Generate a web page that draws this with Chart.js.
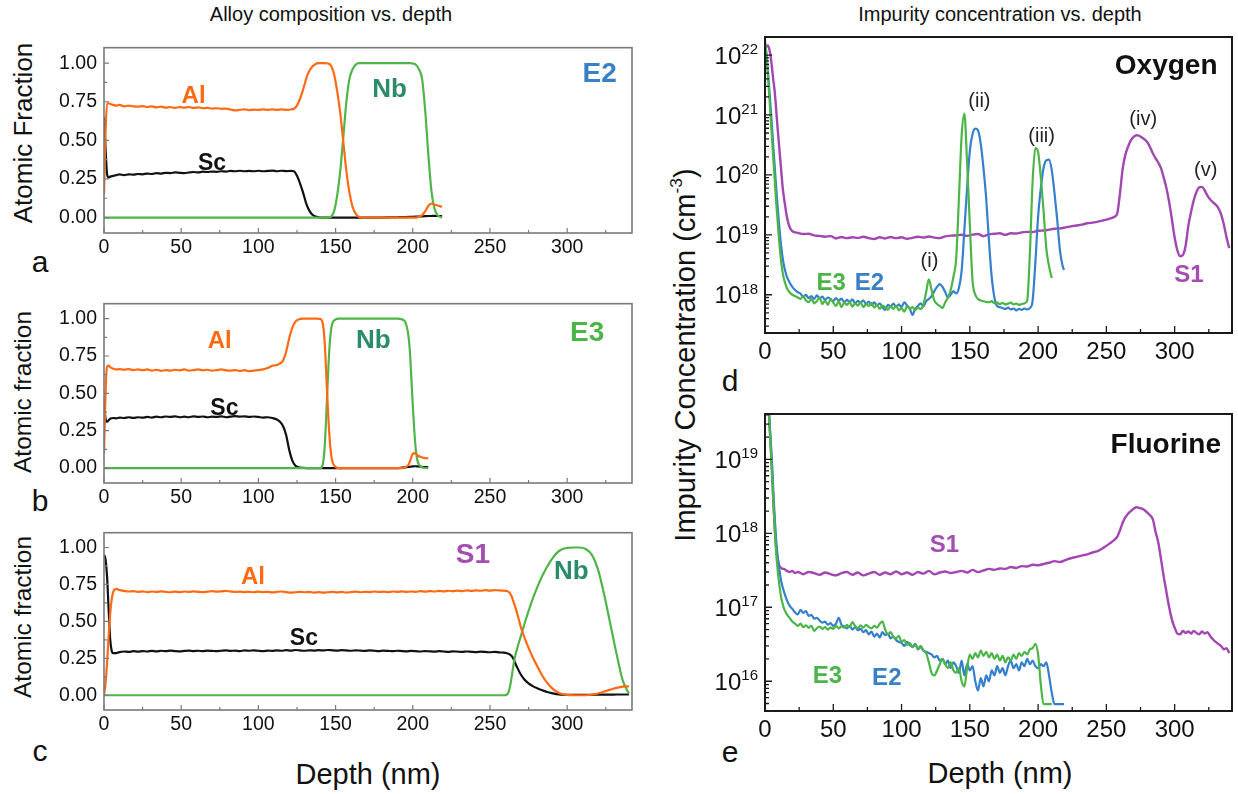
<!DOCTYPE html>
<html>
<head>
<meta charset="utf-8">
<script src="https://cdn.jsdelivr.net/npm/chart.js@4.4.1/dist/chart.umd.min.js"></script>
<style>
  body { margin: 0; background: #fff; }
  #fig { position: relative; width: 1238px; height: 794px; overflow: hidden;
         font-family: "Liberation Sans", Arial, sans-serif; color: #111; }
  #fig canvas { position: absolute; }
  .t { position: absolute; white-space: nowrap; line-height: 1; transform: translate(-50%, -50%); }
  .rot { transform: translate(-50%, -50%) rotate(-90deg); }
  .t sup { font-size: 0.6em; position: relative; top: -0.15em; vertical-align: top; }
</style>
</head>
<body>
<div id="fig">
  <div class="t" style="left:331px;top:14px;font-size:20px">Alloy composition vs. depth</div>
  <div class="t" style="left:1000px;top:14px;font-size:20px">Impurity concentration vs. depth</div>
  <div class="t rot" style="left:23px;top:133px;font-size:26px">Atomic Fraction</div>
  <div class="t rot" style="left:23px;top:392px;font-size:24.5px">Atomic fraction</div>
  <div class="t rot" style="left:23px;top:617px;font-size:24.5px">Atomic fraction</div>
  <div class="t" style="left:368px;top:774px;font-size:29px">Depth (nm)</div>
  <div class="t" style="left:1000px;top:773px;font-size:29px">Depth (nm)</div>
  <div class="t rot" style="left:685px;top:355px;font-size:29px">Impurity Concentration (cm<sup>-3</sup>)</div>
  <div class="t" style="left:40px;top:262px;font-size:30px">a</div>
  <div class="t" style="left:40px;top:501px;font-size:30px">b</div>
  <div class="t" style="left:40px;top:751px;font-size:30px">c</div>
  <div class="t" style="left:730px;top:381px;font-size:30px">d</div>
  <div class="t" style="left:730px;top:752px;font-size:30px">e</div>
</div>
<script>
// ---- alloy profiles (atomic fraction vs depth in nm) ----
// E2
const depthA = [
  0, 1, 2, 3, 4, 6, 8, 10, 13, 16,
  19, 22, 25, 28, 31, 34, 37, 40, 43, 46,
  49, 52, 55, 58, 61, 64, 67, 70, 73, 76,
  79, 82, 85, 88, 91, 94, 97, 100, 103, 106,
  109, 112, 115, 118, 121, 123, 125, 127, 129, 131,
  133, 135, 137, 139, 141, 143, 145, 147, 149, 151,
  153, 155, 157, 159, 161, 163, 165, 168, 171, 175,
  180, 185, 190, 195, 198, 200, 202, 204, 206, 208,
  210, 212, 214, 216, 218, 219]
const alA = [
  .15, .55, .74, .74, .735, .73, .725, .73, .72, .725,
  .72, .718, .722, .716, .72, .714, .718, .712, .716, .71,
  .715, .712, .716, .71, .714, .708, .71, .706, .708, .704,
  .706, .7, .694, .698, .7, .696, .699, .697, .7, .698,
  .7, .697, .7, .698, .7, .705, .725, .77, .83, .9,
  .95, .978, .995, 1, 1, 1, .998, .985, .93, .82,
  .68, .49, .3, .16, .07, .025, .005, 0, 0, 0,
  0, 0, 0, 0, 0, 0, 0, .005, .015, .04,
  .075, .09, .085, .078, .072, .07]
const scA = [
  .65, .45, .28, .26, .265, .27, .275, .28, .275, .28,
  .278, .282, .28, .285, .282, .288, .285, .29, .288, .292,
  .29, .288, .292, .295, .292, .297, .295, .298, .296, .3,
  .298, .302, .3, .303, .3, .302, .3, .303, .3, .302,
  .304, .3, .303, .301, .302, .3, .27, .22, .16, .09,
  .045, .018, .006, .002, 0, 0, 0, 0, 0, 0,
  0, 0, 0, 0, 0, 0, 0, 0, 0, 0,
  0, .001, .002, .003, .004, .005, .006, .007, .008, .009,
  .01, .01, .011, .01, .01, .01]
const nbA = [
  0, 0, 0, 0, 0, 0, 0, 0, 0, 0,
  0, 0, 0, 0, 0, 0, 0, 0, 0, 0,
  0, 0, 0, 0, 0, 0, 0, 0, 0, 0,
  0, 0, 0, 0, 0, 0, 0, 0, 0, 0,
  0, 0, 0, 0, 0, 0, 0, 0, 0, 0,
  0, 0, 0, 0, 0, 0, 0, .005, .04, .14,
  .3, .52, .75, .9, .96, .99, 1, 1, 1, 1,
  1, 1, 1, 1, 1, .998, .99, .96, .9, .7,
  .42, .18, .06, .015, .003, 0]

// E3
const depthB = [
  0, 1, 2, 3, 4, 6, 8, 10, 13, 16,
  19, 22, 25, 28, 31, 34, 37, 40, 43, 46,
  49, 52, 55, 58, 61, 64, 67, 70, 73, 76,
  79, 82, 85, 88, 91, 94, 97, 100, 103, 106,
  109, 112, 114, 116, 118, 120, 122, 124, 126, 129,
  132, 135, 138, 140, 141, 142, 143, 144, 145, 146,
  147, 148, 150, 152, 155, 160, 170, 180, 190, 193,
  195, 197, 198, 199, 200, 201, 202, 203, 205, 207,
  210]
const alB = [
  .1, .5, .68, .685, .675, .665, .66, .662, .658, .662,
  .656, .66, .655, .66, .652, .658, .65, .656, .652, .658,
  .654, .66, .652, .656, .66, .654, .658, .652, .656, .66,
  .654, .652, .656, .65, .655, .648, .652, .655, .66, .67,
  .685, .69, .7, .72, .78, .87, .94, .98, .995, 1,
  1, 1, 1, .998, .99, .95, .83, .62, .4, .22,
  .1, .04, .008, 0, 0, 0, 0, 0, 0, 0,
  .005, .02, .04, .07, .095, .1, .095, .085, .075, .068,
  .065]
const scB = [
  .45, .33, .31, .32, .33, .335, .333, .338, .335, .34,
  .336, .34, .337, .342, .338, .344, .34, .345, .342, .346,
  .34, .344, .34, .346, .342, .345, .34, .344, .342, .346,
  .34, .344, .348, .344, .346, .342, .345, .342, .338, .34,
  .335, .325, .31, .28, .22, .12, .05, .015, .005, .001,
  0, 0, 0, 0, 0, 0, 0, 0, 0, 0,
  0, 0, 0, 0, 0, 0, 0, 0, 0, .003,
  .005, .007, .008, .01, .011, .012, .012, .011, .009, .007,
  .006]
const nbB = [
  0, 0, 0, 0, 0, 0, 0, 0, 0, 0,
  0, 0, 0, 0, 0, 0, 0, 0, 0, 0,
  0, 0, 0, 0, 0, 0, 0, 0, 0, 0,
  0, 0, 0, 0, 0, 0, 0, 0, 0, 0,
  0, 0, 0, 0, 0, 0, 0, 0, 0, 0,
  0, 0, 0, 0, .005, .04, .15, .36, .6, .8,
  .92, .97, .995, 1, 1, 1, 1, 1, 1, .995,
  .98, .9, .8, .62, .42, .25, .12, .05, .01, .002,
  0]

// S1
const depthC = [
  0, 1, 2, 3, 4, 5, 6, 8, 10, 13,
  16, 19, 22, 25, 28, 31, 34, 37, 40, 43,
  46, 49, 52, 55, 58, 61, 64, 67, 70, 73,
  76, 79, 82, 85, 88, 91, 94, 97, 100, 103,
  106, 109, 112, 115, 118, 121, 124, 127, 130, 133,
  136, 139, 142, 145, 148, 151, 154, 157, 160, 163,
  166, 169, 172, 175, 178, 181, 184, 187, 190, 193,
  196, 199, 202, 205, 208, 211, 214, 217, 220, 223,
  226, 229, 232, 235, 238, 241, 244, 247, 250, 253,
  256, 259, 261, 262, 263, 264, 265, 266, 268, 270,
  272, 275, 278, 281, 284, 287, 290, 293, 296, 300,
  304, 308, 312, 316, 320, 324, 328, 332, 336, 340]
const alC = [
  0, .08, .22, .4, .55, .65, .7, .72, .712, .706,
  .702, .704, .7, .703, .698, .702, .699, .703, .7, .697,
  .701, .698, .702, .699, .703, .7, .698, .701, .704, .701,
  .703, .706, .702, .699, .701, .698, .7, .697, .701, .698,
  .7, .696, .699, .702, .698, .694, .697, .7, .697, .699,
  .695, .698, .694, .697, .7, .696, .699, .695, .698, .701,
  .697, .7, .698, .702, .699, .701, .698, .702, .7, .703,
  .699, .702, .7, .704, .701, .705, .702, .706, .703, .707,
  .704, .708, .705, .709, .706, .71, .707, .711, .708, .712,
  .709, .708, .705, .7, .69, .67, .64, .61, .54, .46,
  .4, .32, .25, .19, .13, .085, .05, .025, .01, .002,
  0, 0, 0, .003, .012, .025, .038, .05, .058, .06]
const scC = [
  .95, .92, .8, .58, .38, .3, .285, .285, .292, .296,
  .293, .298, .295, .299, .296, .3, .297, .301, .298, .302,
  .299, .297, .3, .302, .299, .301, .298, .302, .3, .298,
  .301, .303, .3, .302, .299, .303, .301, .304, .301, .299,
  .302, .3, .303, .301, .305, .302, .306, .303, .301, .304,
  .302, .305, .303, .306, .304, .302, .305, .303, .301, .304,
  .302, .3, .303, .301, .299, .302, .3, .298, .301, .299,
  .297, .3, .298, .296, .299, .297, .295, .298, .296, .294,
  .297, .295, .293, .296, .294, .292, .295, .293, .291, .294,
  .29, .288, .284, .28, .275, .265, .25, .225, .18, .14,
  .11, .08, .06, .045, .033, .022, .014, .008, .004, .002,
  .002, .002, .003, .003, .004, .004, .004, .005, .005, .005]
const nbC = [
  0, 0, 0, 0, 0, 0, 0, 0, 0, 0,
  0, 0, 0, 0, 0, 0, 0, 0, 0, 0,
  0, 0, 0, 0, 0, 0, 0, 0, 0, 0,
  0, 0, 0, 0, 0, 0, 0, 0, 0, 0,
  0, 0, 0, 0, 0, 0, 0, 0, 0, 0,
  0, 0, 0, 0, 0, 0, 0, 0, 0, 0,
  0, 0, 0, 0, 0, 0, 0, 0, 0, 0,
  0, 0, 0, 0, 0, 0, 0, 0, 0, 0,
  0, 0, 0, 0, 0, 0, 0, 0, 0, 0,
  0, 0, .005, .02, .06, .12, .19, .25, .33, .4,
  .47, .57, .66, .74, .81, .87, .92, .96, .985, .997,
  1, 1, .99, .95, .85, .68, .48, .28, .1, .01]

// ---- SIMS impurity profiles (cm^-3 vs depth in nm) ----
const depthS1 = [
  0, 1, 2, 3, 4, 5, 6, 7, 8, 9,
  10, 11, 12, 13, 14, 15, 16, 18, 20, 22,
  24, 28, 32, 36, 40, 44, 48, 52, 56, 60,
  64, 68, 72, 76, 80, 84, 88, 92, 96, 100,
  104, 108, 112, 116, 120, 124, 128, 132, 136, 140,
  144, 148, 152, 156, 160, 164, 168, 172, 176, 180,
  184, 188, 192, 196, 200, 204, 208, 212, 216, 220,
  224, 228, 232, 236, 240, 244, 248, 252, 256, 258,
  260, 262, 264, 266, 268, 270, 272, 274, 276, 278,
  280, 282, 284, 286, 288, 290, 292, 294, 296, 298,
  300, 302, 304, 306, 308, 310, 312, 314, 316, 318,
  320, 322, 324, 326, 328, 330, 332, 334, 336, 338,
  340]
const oxyS1 = [
  1.1e22, 1.4e22, 1.45e22, 1.3e22, 1e22, 6.5e21, 4e21, 2.6e21, 1.4e21, 7e20,
  3.8e20, 2e20, 1.1e20, 6e19, 4e19, 2.8e19, 2e19, 1.35e19, 1.15e19, 1.1e19,
  1.08e19, 1.03e19, 1.04e19, 9.8e18, 9.6e18, 9.3e18, 9.5e18, 8.7e18, 9.2e18, 8.8e18,
  9.1e18, 8.9e18, 9.3e18, 8.8e18, 8.5e18, 9.1e18, 8.7e18, 9.2e18, 8.8e18, 9.1e18,
  8.6e18, 8.9e18, 9.3e18, 9e18, 9.4e18, 9e18, 8.8e18, 9.4e18, 9.7e18, 9.8e18,
  1e19, 9.6e18, 1.01e19, 1.03e19, 9.5e18, 1.02e19, 1.04e19, 1.06e19, 1e19, 1.06e19,
  1.05e19, 1.1e19, 1.12e19, 1.11e19, 1.17e19, 1.18e19, 1.22e19, 1.26e19, 1.28e19, 1.33e19,
  1.38e19, 1.43e19, 1.48e19, 1.56e19, 1.6e19, 1.66e19, 1.75e19, 1.85e19, 2e19, 2.3e19,
  5e19, 1.3e20, 2.2e20, 3e20, 3.8e20, 4.3e20, 4.6e20, 4.5e20, 4.2e20, 3.9e20,
  3.5e20, 2.9e20, 2.3e20, 1.9e20, 1.6e20, 1.3e20, 9e19, 6e19, 3.5e19, 1.8e19,
  9e18, 5.5e18, 4.4e18, 4.6e18, 6.5e18, 1.4e19, 2.4e19, 3.8e19, 5.2e19, 6.2e19,
  6.3e19, 5.5e19, 4.5e19, 3.9e19, 3.5e19, 3.2e19, 2.8e19, 2.2e19, 1.5e19, 9e18,
  6e18]
const fluS1 = [
  3e20, 1.5e20, 8e19, 4e19, 1.8e19, 8e18, 3e18, 1.3e18, 7e17, 4.8e17,
  3.9e17, 3.5e17, 3.4e17, 3.3e17, 3.3e17, 3.2e17, 3.1e17, 3e17, 3.1e17, 2.9e17,
  3e17, 2.8e17, 3e17, 2.9e17, 2.75e17, 2.95e17, 2.8e17, 2.7e17, 2.9e17, 3e17,
  2.75e17, 2.95e17, 2.7e17, 2.85e17, 3e17, 2.75e17, 2.95e17, 2.8e17, 3.05e17, 2.8e17,
  2.95e17, 2.75e17, 3e17, 2.85e17, 3.1e17, 2.8e17, 2.95e17, 3.05e17, 2.9e17, 3e17,
  3.1e17, 2.95e17, 3.2e17, 3e17, 3.15e17, 3.3e17, 3.2e17, 3.35e17, 3.3e17, 3.5e17,
  3.4e17, 3.6e17, 3.55e17, 3.75e17, 3.7e17, 3.85e17, 4e17, 4.2e17, 4.1e17, 4.35e17,
  4.6e17, 4.8e17, 5e17, 5.2e17, 5.5e17, 5.8e17, 6.4e17, 7.2e17, 8.2e17, 9e17,
  1.1e18, 1.4e18, 1.65e18, 1.85e18, 2e18, 2.15e18, 2.25e18, 2.2e18, 2.15e18, 2.05e18,
  1.9e18, 1.75e18, 1.55e18, 1.05e18, 7.5e17, 4.5e17, 2.6e17, 1.6e17, 1e17, 6.8e16,
  5.3e16, 4.4e16, 4.3e16, 4.8e16, 4.5e16, 4.7e16, 4.4e16, 4.8e16, 4.5e16, 4.3e16,
  4.7e16, 4.4e16, 4.6e16, 4.1e16, 3.7e16, 3.4e16, 3.2e16, 3e16, 2.7e16, 2.8e16,
  2.4e16]

const depthE2 = [
  0, 1, 2, 3, 4, 5, 6, 7, 8, 9,
  10, 11, 12, 13, 14, 15, 16, 18, 20, 22,
  24, 26, 28, 30, 32, 34, 36, 38, 40, 42,
  44, 46, 48, 50, 52, 54, 56, 58, 60, 62,
  64, 66, 68, 70, 72, 74, 76, 78, 80, 82,
  84, 86, 88, 90, 92, 94, 96, 98, 100, 102,
  104, 106, 108, 110, 112, 114, 116, 118, 120, 122,
  124, 126, 128, 130, 132, 134, 136, 138, 140, 142,
  144, 146, 148, 150, 152, 154, 156, 158, 160, 162,
  164, 166, 168, 170, 172, 174, 176, 178, 180, 182,
  184, 186, 188, 190, 192, 194, 196, 198, 200, 202,
  204, 206, 208, 210, 212, 214, 216, 218, 219]
const oxyE2 = [
  1.6e22, 1.1e22, 6e21, 3e21, 1.5e21, 7e20, 3.2e20, 1.5e20, 7e19, 3.5e19,
  1.8e19, 1e19, 6e18, 4e18, 3e18, 2.4e18, 2e18, 1.6e18, 1.35e18, 1.2e18,
  1.1e18, 1.05e18, 9.2e17, 1e18, 8.8e17, 9.5e17, 8.5e17, 9.8e17, 8.7e17, 9.3e17,
  8.2e17, 9e17, 8.5e17, 7.8e17, 8.8e17, 8e17, 8.6e17, 7.5e17, 8.2e17, 7.6e17,
  8.4e17, 7.2e17, 7.9e17, 7.4e17, 8.1e17, 7e17, 7.7e17, 6.8e17, 7.5e17, 6.6e17,
  7.2e17, 6.2e17, 5.6e17, 6.8e17, 6.4e17, 7.1e17, 6.3e17, 6.9e17, 6.2e17, 7.5e17,
  6.6e17, 5.9e17, 4.6e17, 5.8e17, 6.5e17, 7.2e17, 6.4e17, 7.8e17, 8.5e17, 9.5e17,
  1.15e18, 1.35e18, 1.5e18, 1.35e18, 1.1e18, 9e17, 1e18, 1.15e18, 1.05e18, 1.3e18,
  2.5e18, 1.2e19, 6e19, 2.5e20, 4.8e20, 5.9e20, 5.5e20, 3.3e20, 1.3e20, 4e19,
  8e18, 2e18, 9e17, 6.5e17, 6.2e17, 6e17, 5.8e17, 6.1e17, 5.7e17, 5.9e17,
  5.5e17, 5.8e17, 5.6e17, 5.9e17, 5.7e17, 6e17, 8e17, 3.5e18, 2e19, 6e19,
  1.3e20, 1.75e20, 1.8e20, 1.2e20, 5e19, 1.8e19, 5.5e18, 3e18, 2.6e18]
const fluE2 = [
  3e20, 1.5e20, 8e19, 4e19, 2e19, 1e19, 4e18, 1.8e18, 9e17, 5.5e17,
  3.8e17, 2.8e17, 2.2e17, 1.85e17, 1.6e17, 1.4e17, 1.25e17, 1.05e17, 9.5e16, 8.5e16,
  8e16, 9.2e16, 8.4e16, 8.9e16, 7.6e16, 7.9e16, 7e16, 7.2e16, 6.6e16, 6.2e16,
  6.4e16, 5.8e16, 6.1e16, 5.6e16, 6e16, 7.2e16, 5.8e16, 5.5e16, 5.2e16, 5.6e16,
  5e16, 5.4e16, 4.9e16, 5.1e16, 4.6e16, 4.9e16, 4.3e16, 4.7e16, 4e16, 4.4e16,
  3.9e16, 4.6e16, 4.2e16, 4.4e16, 3.8e16, 4e16, 3.6e16, 3.4e16, 3.3e16, 3e16,
  3.4e16, 3.1e16, 2.9e16, 3.2e16, 2.7e16, 2.9e16, 2.6e16, 2.5e16, 2.4e16, 2.3e16,
  2.1e16, 2.2e16, 1.9e16, 2e16, 1.7e16, 1.9e16, 1.5e16, 1.8e16, 1.6e16, 1.3e16,
  1.9e16, 1.2e16, 1.7e16, 1.4e16, 1.6e16, 1e16, 7.5e15, 1.1e16, 8.5e15, 1.2e16,
  1e16, 1.4e16, 1.2e16, 1.6e16, 1.3e16, 1.5e16, 1.2e16, 1.6e16, 1.9e16, 1.5e16,
  1.7e16, 1.4e16, 1.8e16, 1.6e16, 2e16, 1.7e16, 1.9e16, 1.6e16, 1.5e16, 1.7e16,
  1.6e16, 1.8e16, 1.2e16, 7e15, 4.9e15, 4.9e15, 4.9e15, 4.9e15, 4.9e15]

const depthE3 = [
  0, 1, 2, 3, 4, 5, 6, 7, 8, 9,
  10, 11, 12, 13, 14, 15, 16, 18, 20, 22,
  24, 26, 28, 30, 32, 34, 36, 38, 40, 42,
  44, 46, 48, 50, 52, 54, 56, 58, 60, 62,
  64, 66, 68, 70, 72, 74, 76, 78, 80, 82,
  84, 86, 88, 90, 92, 94, 96, 98, 100, 102,
  104, 106, 108, 110, 112, 114, 116, 118, 120, 122,
  124, 126, 128, 130, 132, 134, 136, 138, 140, 142,
  144, 146, 148, 150, 152, 154, 156, 158, 160, 162,
  164, 166, 168, 170, 172, 174, 176, 178, 180, 182,
  184, 186, 188, 190, 192, 194, 196, 198, 200, 202,
  204, 206, 208, 210]
const oxyE3 = [
  1.8e22, 1e22, 5e21, 2.3e21, 1e21, 4.5e20, 2e20, 9e19, 4e19, 2e19,
  1e19, 5.5e18, 3.3e18, 2.3e18, 1.8e18, 1.5e18, 1.3e18, 1.1e18, 1e18, 9.5e17,
  9e17, 8.5e17, 9.5e17, 8e17, 7.5e17, 8.6e17, 7.2e17, 7.8e17, 9e17, 7e17,
  8e17, 6.8e17, 8.4e17, 7.4e17, 6.5e17, 7.8e17, 6.2e17, 7.4e17, 6.8e17, 7.6e17,
  6.3e17, 7.2e17, 6.6e17, 7.5e17, 6.2e17, 7e17, 6.5e17, 7.3e17, 6.1e17, 6.8e17,
  5.8e17, 6.6e17, 6.2e17, 5.6e17, 6.4e17, 5.8e17, 6.6e17, 5.5e17, 6e17, 5.2e17,
  6.4e17, 5.8e17, 6.2e17, 5.6e17, 6.1e17, 5.8e17, 6.8e17, 1.1e18, 1.8e18, 1.2e18,
  8e17, 7e17, 6.5e17, 6e17, 7.5e17, 9e17, 1.2e18, 2e18, 4e18, 4e19,
  4.5e20, 1.05e21, 1.6e20, 1.5e19, 1.7e18, 1e18, 8.5e17, 8e17, 7.8e17, 7.6e17,
  7.5e17, 7.8e17, 7.2e17, 7.4e17, 7e17, 7.3e17, 6.9e17, 7.1e17, 7.4e17, 6.9e17,
  7.1e17, 6.8e17, 7e17, 7.2e17, 8e17, 5e18, 8e19, 2.8e20, 2.4e20, 9e19,
  2.5e19, 6e18, 3e18, 1.9e18]
const fluE3 = [
  3e20, 1.4e20, 7e19, 3.5e19, 1.6e19, 7e18, 3e18, 1.3e18, 6e17, 3.6e17,
  2.4e17, 1.7e17, 1.3e17, 1.1e17, 9.5e16, 8.7e16, 8e16, 7.2e16, 6.4e16, 6e16,
  5.6e16, 6e16, 5.4e16, 5.7e16, 5.3e16, 5.6e16, 4.8e16, 5.2e16, 5.5e16, 5.1e16,
  5.4e16, 5e16, 5.3e16, 5.1e16, 5.6e16, 5.2e16, 5.5e16, 5.3e16, 5.8e16, 5.4e16,
  6.3e16, 5.6e16, 5.2e16, 5.7e16, 5.3e16, 5.8e16, 5.4e16, 5.2e16, 5.6e16, 5.3e16,
  6e16, 6.4e16, 5e16, 4.3e16, 4.6e16, 4e16, 3.8e16, 4.1e16, 3.4e16, 3.6e16,
  3.1e16, 3.3e16, 2.9e16, 3.1e16, 2.8e16, 3e16, 2.6e16, 2.4e16, 1.8e16, 1.3e16,
  1.2e16, 1.4e16, 1.7e16, 2e16, 1.7e16, 1.5e16, 1.8e16, 1.4e16, 1.3e16, 1.5e16,
  1e16, 8.5e15, 1.5e16, 2.3e16, 2e16, 2.4e16, 2.1e16, 2.6e16, 2.2e16, 2.5e16,
  2.1e16, 2.4e16, 2e16, 2.3e16, 1.9e16, 2.2e16, 1.8e16, 2.1e16, 1.9e16, 2.3e16,
  2e16, 2.4e16, 2.2e16, 2.5e16, 2.3e16, 2.7e16, 2.8e16, 3.2e16, 2.3e16, 9e15,
  4.9e15, 4.9e15, 4.9e15, 4.9e15]

// ---- axes ----
const depthTicks = [0, 50, 100, 150, 200, 250, 300]
const depthMinor = [25, 75, 125, 175, 225, 275, 325]
const fracTicks = [0, 0.25, 0.5, 0.75, 1]
const fracMinor = [0.125, 0.375, 0.625, 0.875]
const oxyDecades = [18, 19, 20, 21, 22]
const fluDecades = [16, 17, 18, 19]

const FONT = '"Liberation Sans", Arial, sans-serif'
const C = {
    al: '#ff6a13', sc: '#111111', nb: '#4fb548',
    s1: '#a246b2', e2: '#3580cc', e3: '#4cb548',
    nbText: '#2b8c6c', e2Text: '#3a80c6', e3Text: '#4cb548', s1Text: '#a44db2'
}
// margins round each plot box: y-axis width, top pad, right pad, x-axis height
const M = { l: 64, t: 10, r: 8, b: 36 }
const fig = document.getElementById('fig')

function mount(box) {
    const c = document.createElement('canvas')
    const w = box[2] - box[0] + M.l + M.r
    const h = box[3] - box[1] + M.t + M.b
    c.width = w
    c.height = h
    c.style.left = (box[0] - M.l) + 'px'
    c.style.top = (box[1] - M.t) + 'px'
    c.style.width = w + 'px'
    c.style.height = h + 'px'
    fig.appendChild(c)
    return c
}

function series(depth, vals, color, width = 2.2) {
    return {
        data: depth.map((d, i) => ({ x: d, y: vals[i] })),
        borderColor: color,
        borderWidth: width,
        pointRadius: 0,
        fill: false,
        cubicInterpolationMode: 'monotone'
    }
}

// closed box with inward tick marks
function framePlugin(f) {
    return {
        id: 'frame',
        afterDatasetsDraw(chart) {
            const { ctx, chartArea: a, scales: { x, y } } = chart
            ctx.save()
            ctx.strokeStyle = f.color
            ctx.lineWidth = f.tickWidth
            ctx.beginPath()
            for (const [vals, len] of [[depthTicks, f.major], [depthMinor, f.minor]]) {
                for (const v of vals) {
                    const px = x.getPixelForValue(v)
                    ctx.moveTo(px, a.bottom)
                    ctx.lineTo(px, a.bottom - len)
                }
            }
            for (const [vals, len] of [[f.yMajor, f.major], [f.yMinor, f.minor]]) {
                for (const v of vals) {
                    const py = y.getPixelForValue(v)
                    ctx.moveTo(a.left, py)
                    ctx.lineTo(a.left + len, py)
                }
            }
            ctx.stroke()
            ctx.lineWidth = f.width
            ctx.strokeRect(a.left, a.top, a.right - a.left, a.bottom - a.top)
            ctx.restore()
        }
    }
}

function notesPlugin(items) {
    return {
        id: 'notes',
        afterDatasetsDraw(chart) {
            const { ctx, scales: { x, y } } = chart
            ctx.save()
            ctx.textAlign = 'center'
            ctx.textBaseline = 'middle'
            for (const n of items) {
                ctx.font = `${n.bold ? 'bold ' : ''}${n.size}px ${FONT}`
                ctx.fillStyle = n.color
                ctx.fillText(n.text, x.getPixelForValue(n.x), y.getPixelForValue(n.y))
            }
            ctx.restore()
        }
    }
}

// 10^n labels for the log axes
function powerLabels(decades) {
    return {
        id: 'powers',
        afterDraw(chart) {
            const { ctx, chartArea: a, scales: { y } } = chart
            ctx.save()
            ctx.fillStyle = '#111'
            ctx.textAlign = 'left'
            ctx.textBaseline = 'alphabetic'
            for (const e of decades) {
                const py = y.getPixelForValue(Math.pow(10, e))
                ctx.font = `24px ${FONT}`
                const wb = ctx.measureText('10').width
                ctx.font = `15px ${FONT}`
                const we = ctx.measureText(String(e)).width
                const x0 = a.left - 7 - we - wb
                ctx.font = `24px ${FONT}`
                ctx.fillText('10', x0, py + 8.6)
                ctx.font = `15px ${FONT}`
                ctx.fillText(String(e), x0 + wb, py - 1)
            }
            ctx.restore()
        }
    }
}

function xScale(size, pad) {
    return {
        type: 'linear', min: 0, max: 342,
        grid: { display: false, drawTicks: false },
        border: { display: false },
        ticks: { font: { family: FONT, size }, color: '#111', padding: pad, autoSkip: false, maxRotation: 0, callback: v => String(v) },
        afterBuildTicks: s => { s.ticks = depthTicks.map(v => ({ value: v })) },
        afterFit: s => { s.height = M.b }
    }
}

function baseOptions() {
    return {
        responsive: false,
        animation: false,
        devicePixelRatio: 1,
        layout: { padding: { top: M.t, right: M.r, left: 0, bottom: 0 } },
        plugins: { legend: { display: false }, tooltip: { enabled: false } }
    }
}

function alloyPanel(box, depth, al, sc, nb, notes) {
    new Chart(mount(box), {
        type: 'line',
        data: { datasets: [series(depth, al, C.al), series(depth, nb, C.nb), series(depth, sc, C.sc)] },
        options: {
            ...baseOptions(),
            scales: {
                x: xScale(19.5, 3),
                y: {
                    type: 'linear', min: -0.1, max: 1.1,
                    grid: { display: false, drawTicks: false },
                    border: { display: false },
                    ticks: { font: { family: FONT, size: 19.5 }, color: '#111', padding: 7, callback: v => v.toFixed(2) },
                    afterBuildTicks: s => { s.ticks = fracTicks.map(v => ({ value: v })) },
                    afterFit: s => { s.width = M.l }
                }
            }
        },
        plugins: [
            framePlugin({ color: '#7a7a7a', width: 1.6, tickWidth: 1.2, major: 5, minor: 3, yMajor: fracTicks, yMinor: fracMinor }),
            notesPlugin(notes)
        ]
    })
}

function impurityPanel(box, yMin, yMax, decades, sets, notes) {
    const minor = []
    for (let e = Math.floor(Math.log10(yMin)); e <= Math.ceil(Math.log10(yMax)); e++) {
        for (let k = 2; k <= 9; k++) {
            const v = k * Math.pow(10, e)
            if (v > yMin && v < yMax) minor.push(v)
        }
    }
    new Chart(mount(box), {
        type: 'line',
        data: {
            datasets: [
                series(sets.e3[0], sets.e3[1], C.e3, 2.2),
                series(sets.e2[0], sets.e2[1], C.e2, 2.2),
                series(sets.s1[0], sets.s1[1], C.s1, 2.4)
            ]
        },
        options: {
            ...baseOptions(),
            scales: {
                x: xScale(24, 5),
                y: {
                    type: 'logarithmic', min: yMin, max: yMax,
                    grid: { display: false, drawTicks: false },
                    border: { display: false },
                    ticks: { display: false },
                    afterBuildTicks: s => { s.ticks = decades.map(e => ({ value: Math.pow(10, e) })) },
                    afterFit: s => { s.width = M.l }
                }
            }
        },
        plugins: [
            framePlugin({ color: '#1a1a1a', width: 2, tickWidth: 1.3, major: 7, minor: 4, yMajor: decades.map(e => Math.pow(10, e)), yMinor: minor }),
            notesPlugin(notes),
            powerLabels(decades)
        ]
    })
}

const bold = (text, x, y, color, size) => ({ text, x, y, color, size, bold: true })
const plain = (text, x, y) => ({ text, x, y, color: '#222', size: 20, bold: false })

alloyPanel([104, 39, 632, 233], depthA, alA, scA, nbA, [
    bold('Al', 58, 0.784, C.al, 24),
    bold('Sc', 70, 0.352, C.sc, 23),
    bold('Nb', 185, 0.825, C.nbText, 26),
    bold('E2', 321, 0.929, C.e2Text, 28)
])
alloyPanel([104, 295, 632, 483], depthB, alB, scB, nbB, [
    bold('Al', 75, 0.85, C.al, 24),
    bold('Sc', 78, 0.40, C.sc, 23),
    bold('Nb', 174.5, 0.85, C.nbText, 26),
    bold('E3', 313, 0.90, C.e3Text, 28)
])
alloyPanel([104, 524, 632, 710], depthC, alC, scC, nbC, [
    bold('Al', 96.5, 0.80, C.al, 24),
    bold('Sc', 129.5, 0.385, C.sc, 23),
    bold('S1', 239, 0.95, C.s1Text, 28),
    bold('Nb', 302.7, 0.835, C.nbText, 26)
])

impurityPanel([765, 37, 1232, 333], 2.3e17, 2e22, oxyDecades,
    { s1: [depthS1, oxyS1], e2: [depthE2, oxyE2], e3: [depthE3, oxyE3] }, [
    bold('Oxygen', 293.8, 6.38e21, '#111', 28),
    plain('(i)', 120.4, 3.59e18),
    plain('(ii)', 157, 1.66e21),
    plain('(iii)', 202.6, 4.37e20),
    plain('(iv)', 277, 8.3e20),
    plain('(v)', 322.8, 1.2e20),
    bold('E3', 48.4, 1.57e18, C.e3Text, 24),
    bold('E2', 76.4, 1.57e18, C.e2Text, 24),
    bold('S1', 310.5, 2.14e18, C.s1Text, 24)
])
impurityPanel([765, 414, 1232, 711], 3.96e15, 4.1e19, fluDecades,
    { s1: [depthS1, fluS1], e2: [depthE2, fluE2], e3: [depthE3, fluE3] }, [
    bold('Fluorine', 293.5, 1.55e19, '#111', 28),
    bold('S1', 131.4, 6.92e17, C.s1Text, 24),
    bold('E3', 45.7, 1.15e16, C.e3Text, 24),
    bold('E2', 89.2, 1.1e16, C.e2Text, 24)
])
</script>
</body>
</html>
